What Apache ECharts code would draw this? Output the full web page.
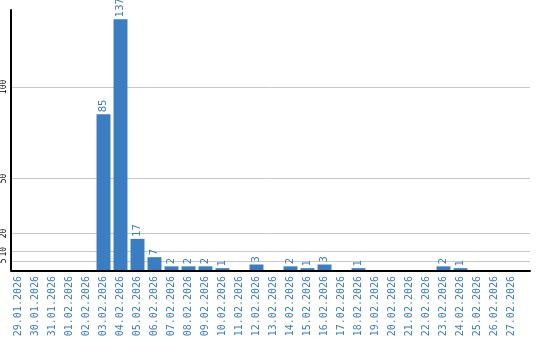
<!DOCTYPE html>
<html><head><meta charset="utf-8">
<script src="https://cdn.jsdelivr.net/npm/echarts@6/dist/echarts.min.js"></script>
<style>html,body{margin:0;padding:0;background:#fff}#c{width:540px;height:340px}</style>
</head><body><div id="c"></div>
<script>
const categories = ['29.01.2026','30.01.2026','31.01.2026','01.02.2026','02.02.2026','03.02.2026','04.02.2026','05.02.2026','06.02.2026','07.02.2026','08.02.2026','09.02.2026','10.02.2026','11.02.2026','12.02.2026','13.02.2026','14.02.2026','15.02.2026','16.02.2026','17.02.2026','18.02.2026','19.02.2026','20.02.2026','21.02.2026','22.02.2026','23.02.2026','24.02.2026','25.02.2026','26.02.2026','27.02.2026'];
const values = [0,0,0,0,0,85,137,17,7,2,2,2,1,0,3,0,2,1,3,0,1,0,0,0,0,2,1,0,0,0];
const yTicks = [5,10,20,50,100];
const yMax = 142;
const blue = '#3b7dc3';
const chart = echarts.init(document.getElementById('c'), null, {renderer:'canvas'});
chart.setOption({
  animation:false,
  grid:[
    {left:10,right:10,top:10,bottom:70},
    {left:10,right:20,top:10,bottom:70}
  ],
  xAxis:[
    {gridIndex:0,type:'value',min:0,max:1,z:10,offset:1,axisLine:{show:true,onZero:false,lineStyle:{color:'#000',width:2}},axisLabel:{show:false},axisTick:{show:false},splitLine:{show:false}},
    {gridIndex:1,type:'category',data:categories,axisLine:{show:false},axisTick:{show:false},
     axisLabel:{rotate:90,interval:0,color:blue,fontFamily:'DejaVu Sans Mono',fontSize:10,margin:6}}
  ],
  yAxis:[
    {gridIndex:0,type:'value',min:0,max:yMax,z:10,axisLine:{show:true,lineStyle:{color:'#000',width:2}},axisTick:{show:false},splitLine:{show:false},
     axisLabel:{customValues:yTicks,rotate:90,color:'#000',fontFamily:'DejaVu Sans Mono',fontSize:8,margin:3}},
    {gridIndex:1,type:'value',min:0,max:yMax,show:false}
  ],
  series:[
    {type:'line',xAxisIndex:0,yAxisIndex:0,data:[],silent:true,z:0,
     markLine:{silent:true,symbol:'none',z:0,label:{show:false},lineStyle:{color:'#c8c8c8',type:'solid',width:1},
       data:yTicks.map(v=>({yAxis:v}))}},
    {type:'bar',xAxisIndex:1,yAxisIndex:1,data:values,barCategoryGap:'18%',z:5,
     itemStyle:{color:blue},
     label:{show:true,position:'top',rotate:90,align:'left',verticalAlign:'middle',distance:2,color:blue,fontFamily:'DejaVu Sans',fontSize:10,
       formatter:p=>p.value?String(p.value):''}}
  ]
});
</script></body></html>
